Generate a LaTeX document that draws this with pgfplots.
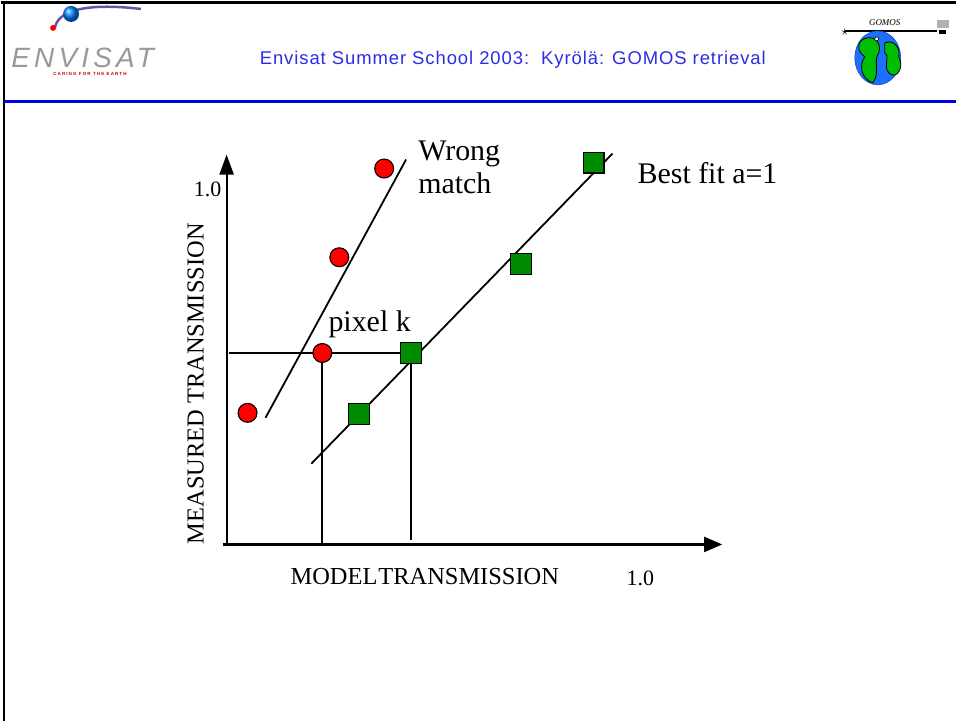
\documentclass[border=0pt]{standalone}
\usepackage{pgfplots}
\pgfplotsset{compat=1.18}
\usepackage{fontspec}
\setmainfont{Liberation Serif}
\newfontfamily\hdfont[LetterSpace=5]{Liberation Sans}
\newfontfamily\envfont[LetterSpace=15]{Liberation Sans}
\newfontfamily\tagfont[LetterSpace=25]{Liberation Sans}
\usetikzlibrary{arrows.meta}
\definecolor{ptred}{RGB}{255,0,0}
\definecolor{ptgreen}{RGB}{0,140,0}
\definecolor{hdblue}{RGB}{0,0,225}
\definecolor{ttblue}{RGB}{45,45,230}
\definecolor{globe}{RGB}{30,110,255}

\begin{document}
\begin{tikzpicture}
\begin{axis}[x=1pt, y=1pt, xmin=0, xmax=957, ymin=0, ymax=722, y dir=reverse,
  hide axis, clip=false, scale only axis]
% slide background and frame
\fill[white] (0,0) rectangle (957,722);
\draw[black, line width=2.5pt] (0,1.5) -- (957,1.5);
\draw[black, line width=2pt] (2.5,0) -- (2.5,722);
\draw[hdblue, line width=3pt] (3,101) -- (957,101);

% header title
\node[ttblue, font=\hdfont\fontsize{18.5}{22}\selectfont, anchor=base] at (513,64)
  {Envisat Summer School 2003:\ \ Kyrölä: GOMOS retrieval};

% ENVISAT logo (sketch)
\draw[blue!30!gray, line width=2.5pt] (54,26) .. controls (58,8) and (90,2) .. (140,8);
\fill[red] (52,27) circle (3pt);
\shade[ball color=blue!50!cyan] (70,13) circle (8pt);
\node[gray!80, font=\envfont\itshape\fontsize{28}{30}\selectfont, anchor=base west, inner sep=0] at (10,67) {ENVISAT};
\node[red!75!black, font=\tagfont\bfseries\fontsize{4.5}{5}\selectfont, anchor=base west, inner sep=0] at (52,75) {CARING FOR THE EARTH};

% GOMOS logo (sketch)
\draw[black, line width=1.5pt] (846,30) -- (938,30);
\node[font=\bfseries\fontsize{14}{14}\selectfont, inner sep=0] at (846,31) {$\star$};
\node[font=\itshape\fontsize{9}{9}\selectfont, anchor=base, inner sep=0] at (886,25) {GOMOS};
\fill[gray!60] (938,19) rectangle (950,27);
\fill[black] (940,29) rectangle (947,33);
\fill[globe, draw=globe!70!black, line width=0.6pt] (879,57) ellipse (23pt and 27pt);
\fill[green!75!black, draw=black, line width=0.8pt] (862,40) .. controls (872,32) and (884,40) .. (880,52)
  .. controls (874,60) and (882,72) .. (874,82) .. controls (862,78) and (860,64) .. (866,56) .. controls (860,52) and (858,46) .. cycle;
\fill[green!75!black, draw=black, line width=0.8pt] (886,42) .. controls (896,38) and (902,48) .. (900,56)
  .. controls (906,66) and (898,80) .. (890,72) .. controls (884,64) and (892,56) .. (886,52) -- cycle;
\fill[white, draw=black, line width=0.6pt] (878,38) circle (2pt);

% measured vs model points
\addplot[only marks, mark=*, mark size=9.5pt, mark options={fill=ptred, draw=black, line width=1.1pt}]
  coordinates {(247,413) (322,353) (339,257) (384,168)};
\addplot[only marks, mark=square*, mark size=10.5pt, mark options={fill=ptgreen, draw=black, line width=1.1pt}]
  coordinates {(359,414) (411,353) (521,264) (594,162)};

% guide lines to pixel k, on top of the marks
\addplot[black, line width=1.8pt, mark=none] coordinates {(228,353) (411,353)};
\addplot[black, line width=1.8pt, mark=none] coordinates {(322,353) (322,545)};
\addplot[black, line width=1.8pt, mark=none] coordinates {(411,353) (411,541)};

% fit lines
\addplot[black, line width=1.8pt, mark=none] coordinates {(265,418) (406,159)};
\addplot[black, line width=1.8pt, mark=none] coordinates {(311,464) (613,153)};

% axes with arrows
\addplot[black, line width=2.2pt, mark=none, -{Triangle[length=20pt,width=14pt]}]
  coordinates {(226,547) (226,154)};
\addplot[black, line width=2.2pt, mark=none, -{Triangle[length=18pt,width=15pt]}]
  coordinates {(222,545) (723,545)};

% labels
\node[font=\fontsize{22}{24}\selectfont, anchor=base west, inner sep=0] at (193,196) {1.0};
\node[font=\fontsize{22}{24}\selectfont, anchor=base west, inner sep=0] at (627,586) {1.0};
\node[font=\fontsize{24.5}{26}\selectfont, anchor=base west, inner sep=0] at (290,585)
  {MODEL\kern1pt TRANSMISSION};
\node[font=\fontsize{24.5}{26}\selectfont, anchor=base west, inner sep=0, rotate=90] at (203,545)
  {MEASURED TRANSMISSION};
\node[font=\fontsize{30}{32}\selectfont, anchor=base west, inner sep=0] at (418,160) {Wrong};
\node[font=\fontsize{30}{32}\selectfont, anchor=base west, inner sep=0] at (418,193) {match};
\node[font=\fontsize{30}{32}\selectfont, anchor=base west, inner sep=0] at (638,183) {Best fit a=1};
\node[font=\fontsize{30}{32}\selectfont, anchor=base west, inner sep=0] at (328,331) {pixel k};
\end{axis}
\end{tikzpicture}
\end{document}
